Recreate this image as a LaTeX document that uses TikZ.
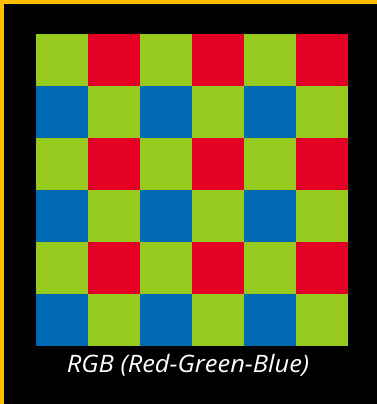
\documentclass[tikz,border=0pt]{standalone}
\usepackage{fontspec}
\setmainfont{Open Sans}
\definecolor{bgY}{HTML}{FFBE00}
\definecolor{cG}{HTML}{97CA1E}
\definecolor{cR}{HTML}{E30024}
\definecolor{cB}{HTML}{0069B4}
\begin{document}
\begin{tikzpicture}[x=1pt,y=-1pt,
  cell/.style={draw=none,inner sep=0,outer sep=0,minimum size=52pt}]
\useasboundingbox (0,0) rectangle (377,404);
\fill[bgY] (0,0) rectangle (377,404);
\fill[black] (4,4) rectangle (377,404);
\foreach \r in {0,...,5}{
  \foreach \c in {0,...,5}{
    \pgfmathtruncatemacro{\re}{mod(\r,2)}
    \pgfmathtruncatemacro{\ce}{mod(\c,2)}
    \ifnum\re=0
      \ifnum\ce=0 \def\col{cG}\else\def\col{cR}\fi
    \else
      \ifnum\ce=0 \def\col{cB}\else\def\col{cG}\fi
    \fi
    \node[cell,fill=\col] (c\r\c) at (36+26+52*\c,34+26+52*\r) {};
  }
}
\node[text=white,font=\fontsize{24}{27}\selectfont\itshape,anchor=base,inner sep=0,xscale=1.06] (cap) at (188,372) {RGB (Red-Green-Blue)};
\end{tikzpicture}
\end{document}
